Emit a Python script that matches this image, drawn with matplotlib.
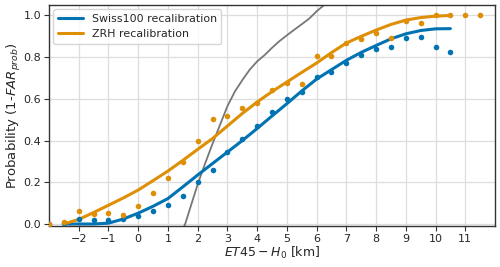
import numpy as np
import matplotlib
matplotlib.use('Agg')
import matplotlib.pyplot as plt
import seaborn as sns

# observed points
x_obs = [-3, -2.5, -2, -1.5, -1, -0.5, 0, 0.5, 1, 1.5, 2, 2.5, 3, 3.5, 4, 4.5,
         5, 5.5, 6, 6.5, 7, 7.5, 8, 8.5, 9, 9.5, 10, 10.5, 11, 11.5]
swiss_obs = [0.0, 0.005, 0.022, 0.019, 0.02, 0.024, 0.04, 0.062, 0.089, 0.135,
             0.2, 0.26, 0.343, 0.407, 0.469, 0.539, 0.6, 0.633, 0.705, 0.727,
             0.774, 0.809, 0.837, 0.85, 0.893, 0.896, 0.85, 0.824]
zrh_obs = [0.0, 0.01, 0.064, 0.046, 0.051, 0.043, 0.085, 0.15, 0.219, 0.295,
           0.396, 0.502, 0.517, 0.554, 0.582, 0.645, 0.676, 0.673, 0.807, 0.804,
           0.869, 0.887, 0.914, 0.893, 0.975, 0.963, 1.0, 1.0, 1.0, 1.0]

# recalibration curves
x_fit = [-2.5, -2, -1.5, -1, -0.5, 0, 0.5, 1, 1.5, 2, 2.5, 3, 3.5, 4, 4.5,
         5, 5.5, 6, 6.5, 7, 7.5, 8, 8.5, 9, 9.5, 10, 10.5]
swiss_fit = [0.0, 0.0, 0.0, 0.004, 0.024, 0.052, 0.085, 0.122, 0.178, 0.235,
             0.29, 0.345, 0.40, 0.458, 0.518, 0.577, 0.638, 0.695, 0.74, 0.785,
             0.823, 0.856, 0.888, 0.912, 0.928, 0.936, 0.937]
zrh_fit = [0.0, 0.022, 0.055, 0.09, 0.125, 0.163, 0.208, 0.254, 0.305, 0.358,
           0.41, 0.47, 0.53, 0.585, 0.635, 0.681, 0.727, 0.772, 0.822, 0.868,
           0.90, 0.93, 0.957, 0.978, 0.99, 0.997, 1.0]

# reference curve (grey)
x_ref = [1.45, 1.58, 1.8, 2.0, 2.25, 2.5, 2.75, 3.0, 3.25, 3.5, 3.75, 4.0,
         4.25, 4.5, 4.75, 5.0, 5.25, 5.5, 5.75, 6.0, 6.25]
y_ref = [-0.04, 0.0, 0.1, 0.19, 0.29, 0.385, 0.475, 0.565, 0.635, 0.69, 0.74,
         0.78, 0.81, 0.845, 0.877, 0.905, 0.932, 0.958, 0.985, 1.02, 1.05]

sns.set_style('whitegrid')
plt.rcParams['font.family'] = ['DejaVu Sans']

blue = '#0173b2'
orange = '#de8f05'

fig, ax = plt.subplots(figsize=(5, 2.67), dpi=100)
fig.subplots_adjust(left=0.098, right=0.99, top=0.981, bottom=0.154)

ax.plot(x_ref, y_ref, color='#777777', lw=1.3)
ax.plot(x_fit, swiss_fit, color=blue, lw=2.2, label='Swiss100 recalibration')
ax.plot(x_fit, zrh_fit, color=orange, lw=2.2, label='ZRH recalibration')
ax.scatter(x_obs[:len(swiss_obs)], swiss_obs, color=blue, s=16, zorder=3, lw=0)
ax.scatter(x_obs, zrh_obs, color=orange, s=16, zorder=3, lw=0)

ax.set_xlim(-3, 12)
ax.set_ylim(-0.009, 1.05)
ax.set_xticks(range(-2, 12))
ax.set_yticks(np.arange(0, 1.01, 0.2))
ax.set_yticklabels(['0.0', '0.2', '0.4', '0.6', '0.8', '1.0'])
ax.tick_params(labelsize=8, length=3.5, width=0.8, color='#333333', pad=2,
               bottom=True, left=True)
for s in ax.spines.values():
    s.set_color('#333333')
    s.set_linewidth(1.0)
ax.grid(color='#dddddd', lw=0.9)

ax.set_xlabel(r'$ET45 - H_0$ [km]', fontsize=9, labelpad=1)
ax.set_ylabel(r'Probability (1-$FAR_{prob}$)', fontsize=9.5, labelpad=0.5)
ax.legend(loc='upper left', fontsize=7.9, frameon=True, handlelength=2.3,
          borderaxespad=0.4)

plt.savefig('out.png')
